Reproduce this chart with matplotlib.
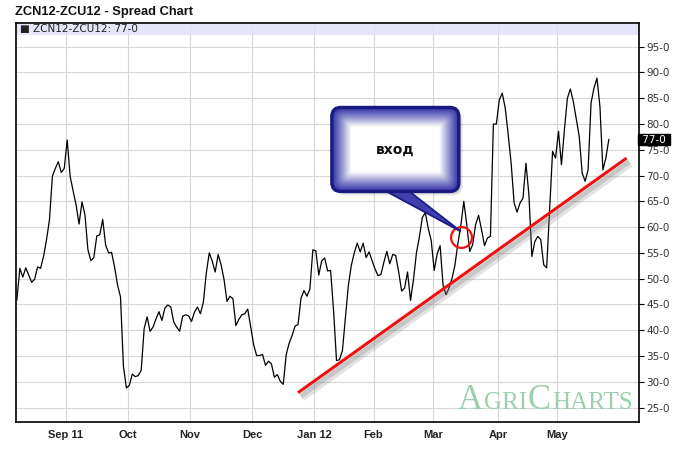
import numpy as np
import pandas as pd
import matplotlib
matplotlib.use("Agg")
import matplotlib.pyplot as plt
import matplotlib.patheffects as pe
from matplotlib.patches import FancyBboxPatch, Polygon, Rectangle
from matplotlib.offsetbox import TextArea, HPacker, AnchoredOffsetbox
from matplotlib.transforms import IdentityTransform
from matplotlib.colors import to_rgb
from pandas.tseries.offsets import CustomBusinessDay

# ---------------- data ----------------
title = "ZCN12-ZCU12 - Spread Chart"
legend_label = "\u25a0 ZCN12-ZCU12: 77-0"
last_label = "77-0"
callout_text = "вход"

first_day = "2011-08-09"
holidays = ["2011-09-05", "2011-11-24", "2011-12-26", "2012-01-02",
            "2012-01-16", "2012-02-20", "2012-04-06", "2012-05-28"]

spread = [
    45.9, 52.0, 50.3, 52.1, 50.7, 49.3, 49.9, 52.3, 52.0, 54.3,
    57.5, 61.4, 69.9, 71.4, 72.7, 70.6, 71.4, 76.9, 69.8, 67.0,
    64.3, 60.6, 64.9, 62.4, 55.6, 53.5, 54.1, 58.3, 58.5, 61.5,
    56.5, 55.0, 55.1, 52.3, 48.8, 46.5, 33.0, 28.8, 29.3, 31.5,
    31.0, 31.2, 32.2, 40.3, 42.6, 39.8, 40.6, 42.2, 43.6, 41.9,
    44.3, 44.9, 44.5, 41.6, 40.6, 39.8, 42.7, 43.0, 42.8, 41.7,
    43.5, 44.5, 43.2, 45.4, 51.1, 55.0, 53.4, 51.3, 54.7, 52.7,
    49.8, 45.6, 46.6, 46.1, 40.9, 42.1, 43.0, 43.2, 44.1, 40.6,
    37.2, 35.1, 35.1, 35.3, 33.2, 34.0, 33.5, 30.9, 31.4, 30.1,
    29.5, 35.3, 37.5, 39.0, 40.8, 41.1, 46.2, 47.7, 46.6, 48.0,
    55.6, 55.4, 50.7, 53.5, 54.0, 51.5, 51.6, 43.8, 34.1, 34.3,
    36.1, 42.5, 48.7, 52.6, 55.0, 56.9, 55.2, 56.9, 54.1, 55.2,
    53.5, 51.9, 50.6, 50.8, 53.2, 55.3, 52.9, 54.7, 54.5, 51.3,
    47.6, 48.2, 51.3, 45.8, 49.8, 55.0, 58.1, 61.9, 62.8, 59.7,
    57.4, 51.6, 54.8, 56.4, 48.7, 46.9, 48.2, 50.0, 52.6, 56.8,
    60.3, 65.0, 60.5, 55.3, 56.6, 60.5, 62.3, 59.5, 56.4, 57.9,
    58.2, 80.0, 80.0, 84.7, 86.0, 83.1, 78.0, 72.4, 64.7, 62.9,
    64.7, 65.6, 72.4, 66.3, 54.3, 57.2, 58.2, 57.6, 52.7, 52.1,
    63.4, 74.7, 73.4, 78.6, 72.1, 78.9, 85.0, 86.8, 84.4, 81.0,
    77.6, 70.5, 68.9, 71.1, 84.1, 87.0, 88.9, 83.4, 71.1, 73.4,
    77.0,
]

month_labels = ["Sep 11", "Oct", "Nov", "Dec", "Jan 12", "Feb", "Mar", "Apr", "May"]
month_starts = ["2011-09-01", "2011-10-01", "2011-11-01", "2011-12-01", "2012-01-01",
                "2012-02-01", "2012-03-01", "2012-04-01", "2012-05-01"]
y_ticks = [25, 30, 35, 40, 45, 50, 55, 60, 65, 70, 75, 80, 85, 90, 95]

trend_dates = ["2011-12-22", "2012-06-04"]
trend_values = [27.9, 73.4]
entry_date = "2012-03-14"
entry_value = 58.0

# ---------------- calendar (trading-day axis) ----------------
cal = pd.date_range(first_day, "2012-07-31", freq=CustomBusinessDay(holidays=holidays))


def tindex(d):
    return int(cal.searchsorted(pd.Timestamp(d)))


x = np.arange(len(spread))
month_pos = [tindex(d) - 0.5 for d in month_starts]

# ---------------- figure ----------------
W, H = 688, 449
fig = plt.figure(figsize=(W / 100, H / 100), dpi=100)
fig.patch.set_facecolor("white")
ax_l, ax_r, ax_t, ax_b = 16, 639, 23, 422
ax = fig.add_axes([ax_l / W, (H - ax_b) / H, (ax_r - ax_l) / W, (ax_b - ax_t) / H])

ax.plot(x, spread, color="black", lw=0.9, zorder=3)
ax.set_xlim(-0.3, 210.2)
ax.set_ylim(22.2, 99.6)

ax.set_xticks(month_pos)
ax.set_xticklabels(month_labels, fontfamily="Liberation Sans", fontweight="bold",
                   fontsize=8, color="#222222")
ax.set_yticks(y_ticks)
ax.set_yticklabels([f"{v}-0" for v in y_ticks], fontfamily="DejaVu Sans",
                   fontsize=7.5, color="#333333")
ax.yaxis.tick_right()
ax.tick_params(axis="y", direction="out", length=3.5, width=0.8, pad=1.5)
ax.tick_params(axis="x", length=0, pad=6)
ax.grid(True, color="#d6d6d6", lw=0.8)
ax.set_axisbelow(True)
for s in ax.spines.values():
    s.set_color("black")
    s.set_linewidth(1.2)

# legend band
band_h = 12 / (ax_b - ax_t)
ax.add_patch(Rectangle((0, 1 - band_h), 1, band_h, transform=ax.transAxes,
                       fc="#e2e2f8", ec="none", alpha=0.85, zorder=1))
ax.text(4 / (ax_r - ax_l), 1 - band_h / 2, legend_label, transform=ax.transAxes,
        ha="left", va="center", fontsize=7.5, fontfamily="DejaVu Sans",
        color="#222222", zorder=6)

# last value box
ax.text(1.0, spread[-1], " " + last_label + " ", transform=ax.get_yaxis_transform(),
        ha="left", va="center", fontsize=7.5, fontfamily="DejaVu Sans", color="white",
        bbox=dict(boxstyle="square,pad=0.08", fc="black", ec="black"),
        zorder=10, clip_on=False)

# title
fig.text(15 / W, 1 - 12 / H, title, ha="left", va="center", fontsize=9.3,
         fontweight="bold", fontfamily="Liberation Sans", color="#111111")

# watermark
wm_color = "#9ccfaa"
wm_big = dict(fontfamily="Liberation Serif", size=25, color=wm_color)
wm_small = dict(fontfamily="Liberation Serif", size=18, color=wm_color)
wm = HPacker(children=[TextArea("A", textprops=wm_big),
                       TextArea("GRI", textprops=wm_small),
                       TextArea("C", textprops=wm_big),
                       TextArea("HARTS", textprops=wm_small)],
             align="baseline", pad=0, sep=0.8)
wm_box = AnchoredOffsetbox(loc="lower right", child=wm, frameon=False, pad=0,
                           borderpad=0, bbox_to_anchor=(0.99, 0.012),
                           bbox_transform=ax.transAxes)
wm_box.set_zorder(2)
ax.add_artist(wm_box)

# trend line with shadow
tx = [tindex(d) for d in trend_dates]
ax.plot(tx, trend_values, color="#ee1111", lw=2.2, solid_capstyle="butt", zorder=4,
        path_effects=[pe.SimpleLineShadow(offset=(2.5, -3.5), shadow_color="#777777",
                                          alpha=0.2, linewidth=6),
                      pe.SimpleLineShadow(offset=(2, -2.5), shadow_color="#777777",
                                          alpha=0.25, linewidth=3.5),
                      pe.Normal()])

# entry circle
ex = tindex(entry_date)
ax.plot([ex], [entry_value], marker="o", ms=15, mfc="none", mec="#ee1111",
        mew=1.6, zorder=5)

# ---------------- callout (pixel offsets from entry point) ----------------
cx, cy = ax.transData.transform((ex, entry_value))
ident = IdentityTransform()
bx0, bx1 = cx - 129, cx - 2
by0, by1 = cy + 46, cy + 130
edge_col = np.array(to_rgb("#3535a8"))
white = np.array([1.0, 1.0, 1.0])

# shadow
for k, a in enumerate([0.10, 0.12, 0.15]):
    sh = FancyBboxPatch((bx0 + 4 + k, by0 - 4 + k), (bx1 - bx0) - 2 * k,
                        (by1 - by0) - 2 * k,
                        boxstyle="round,pad=0,rounding_size=9",
                        fc="#555555", ec="none", alpha=a, transform=ident, zorder=7)
    fig.add_artist(sh)

# pointer
ptr = Polygon([(cx - 78, by0 + 2), (cx - 54, by0 + 2), (cx, cy + 6)], closed=True,
              fc="#4040ac", ec="#1c1c88", lw=1.3, transform=ident, zorder=8)
ptr_sh = Polygon([(cx - 74, by0 - 1), (cx - 50, by0 - 1), (cx + 3, cy + 3)], closed=True,
                 fc="#666666", ec="none", alpha=0.25, transform=ident, zorder=7.5)
fig.add_artist(ptr_sh)
fig.add_artist(ptr)

# gradient body
n = 20
for k in range(n):
    t = (k / (n - 1)) ** 1.1
    col = edge_col * (1 - t) + white * t
    d = k * 1.0
    p = FancyBboxPatch((bx0 + d, by0 + d), (bx1 - bx0) - 2 * d, (by1 - by0) - 2 * d,
                       boxstyle=f"round,pad=0,rounding_size={max(9 - d * 0.4, 2)}",
                       fc=col, ec="none", transform=ident, zorder=8.5)
    fig.add_artist(p)
border = FancyBboxPatch((bx0, by0), bx1 - bx0, by1 - by0,
                        boxstyle="round,pad=0,rounding_size=9",
                        fc="none", ec="#1a1a80", lw=2.4, transform=ident, zorder=9)
fig.add_artist(border)
fig.text((bx0 + bx1) / 2, (by0 + by1) / 2, callout_text, transform=ident,
         ha="center", va="center", fontsize=10, fontweight="bold",
         fontfamily="DejaVu Sans", color="#111111", zorder=10)

fig.savefig("out.png", dpi=100, facecolor="white")
